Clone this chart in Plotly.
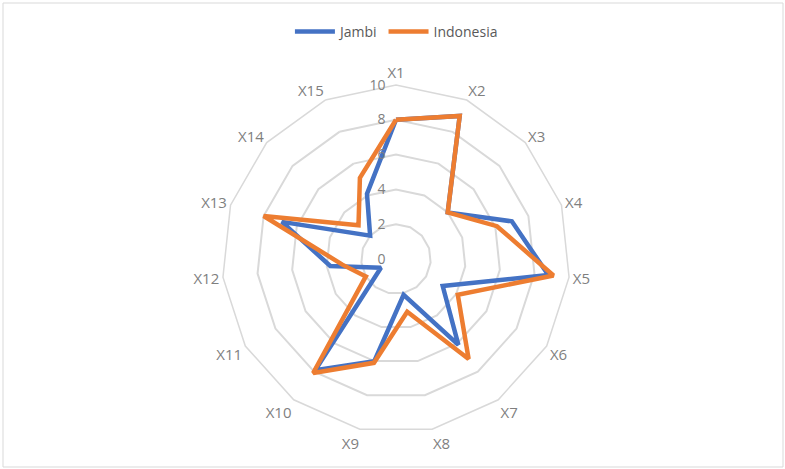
import plotly.graph_objects as go

categories = ["X1", "X2", "X3", "X4", "X5", "X6", "X7", "X8", "X9", "X10",
              "X11", "X12", "X13", "X14", "X15"]
jambi = [8, 9, 4, 7, 8.8, 3.1, 6.1, 2.1, 6, 7.9, 1, 3.8, 6.9, 2, 4.1]
indonesia = [8, 9, 4, 6.1, 9.1, 4.1, 7.1, 3.1, 6.1, 8.1, 2, 3.1, 8, 2.9, 5.1]
radial_ticks = [0, 2, 4, 6, 8, 10]

W, H = 785, 469
FONT = "Open Sans"
GREY_TXT = "#7f7f7f"
GRID = "#d9d9d9"


def closed(vals):
    return list(vals) + [vals[0]]


fig = go.Figure()
fig.add_trace(go.Scatterpolar(
    r=closed(jambi), theta=closed(categories), name="Jambi",
    mode="lines", line=dict(color="#4472C4", width=4.5),
))
fig.add_trace(go.Scatterpolar(
    r=closed(indonesia), theta=closed(categories), name="Indonesia",
    mode="lines", line=dict(color="#ED7D31", width=4.5),
))

cx, cy, R = 396, 259, 174
fig.update_layout(
    width=W, height=H,
    margin=dict(l=0, r=0, t=0, b=0),
    paper_bgcolor="white",
    font=dict(family=FONT, size=14, color=GREY_TXT),
    showlegend=True,
    legend=dict(
        orientation="h", x=0.505, xanchor="center", y=1 - 32 / H, yanchor="middle",
        font=dict(family=FONT, size=14, color="#595959"),
        itemwidth=40,
    ),
    polar=dict(
        domain=dict(x=[(cx - R) / W, (cx + R) / W],
                    y=[(H - cy - R) / H, (H - cy + R) / H]),
        bgcolor="white",
        gridshape="linear",
        radialaxis=dict(
            range=[0, 10], tickvals=radial_ticks, angle=90, tickangle=90,
            side="counterclockwise", layer="above traces",
            showline=False, ticks="outside", ticklen=5,
            tickcolor="rgba(0,0,0,0)", gridcolor=GRID, gridwidth=1.5,
            tickfont=dict(family=FONT, size=14, color=GREY_TXT),
        ),
        angularaxis=dict(
            direction="clockwise", rotation=90,
            showline=True, linecolor=GRID, linewidth=1.5,
            showgrid=False, ticks="",
            tickfont=dict(family=FONT, size=15, color=GREY_TXT),
        ),
    ),
    shapes=[dict(
        type="rect", xref="paper", yref="paper",
        x0=3 / W, x1=783 / W, y0=1 - 467 / H, y1=1 - 3 / H,
        line=dict(color="#d9d9d9", width=1), fillcolor="rgba(0,0,0,0)",
        layer="below",
    )],
)

fig.write_html("out.html")
